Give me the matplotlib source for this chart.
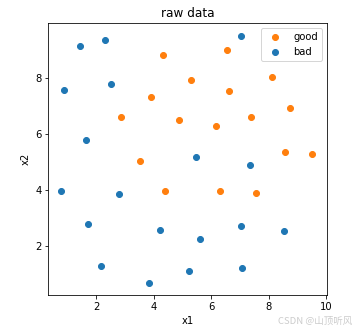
import matplotlib.pyplot as plt

good_x1 = [4.33, 6.53, 5.29, 6.60, 8.10, 3.91, 2.85, 4.86, 6.15, 7.37, 8.72, 3.50, 8.55, 9.49, 4.37, 6.29, 7.54]
good_x2 = [8.82, 9.00, 7.92, 7.54, 8.03, 7.31, 6.59, 6.48, 6.27, 6.59, 6.92, 5.05, 5.37, 5.27, 3.97, 3.97, 3.90]

bad_x1 = [0.885, 1.43, 2.31, 2.49, 1.65, 7.02, 5.48, 7.33, 0.78, 2.77, 1.72, 4.22, 5.59, 7.02, 8.52, 2.17, 5.21, 7.05, 3.83]
bad_x2 = [7.56, 9.14, 9.35, 7.78, 5.80, 9.51, 5.19, 4.88, 3.97, 3.87, 2.79, 2.58, 2.25, 2.72, 2.54, 1.28, 1.10, 1.21, 0.67]

fig = plt.figure(figsize=(355 / 72, 332 / 72), dpi=72)
ax = fig.add_axes([0.1366, 0.1114, 0.785, 0.8193])

ax.scatter(good_x1, good_x2, color="tab:orange", label="good")
ax.scatter(bad_x1, bad_x2, color="tab:blue", label="bad")

ax.set_xlim(0.33, 10.03)
ax.set_ylim(0.25, 9.96)
ax.set_xticks([2, 4, 6, 8, 10])
ax.set_yticks([2, 4, 6, 8])
ax.set_xlabel("x1")
ax.set_ylabel("x2")
ax.set_title("raw data")
ax.legend(loc="upper right")

# watermark
fig.text(0.993, 0.018, "CSDN @山顶听风", ha="right", va="bottom", fontsize=9.5,
         color="#cccccc", family=["Noto Sans CJK SC", "DejaVu Sans"])

fig.savefig("out.png", dpi=72)
